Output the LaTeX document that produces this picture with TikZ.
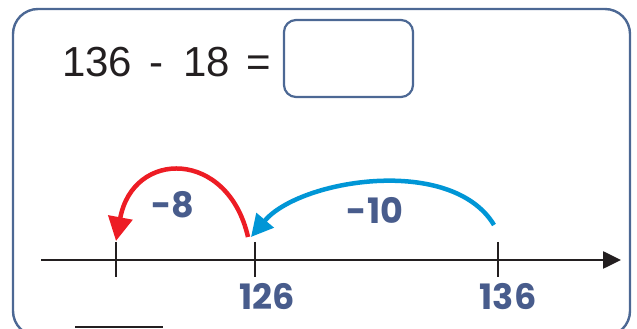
\documentclass[tikz,border=0pt]{standalone}
\usepackage{fontspec}
\setmainfont{Liberation Sans}
\newfontfamily\handfont{Poppins}
\usetikzlibrary{arrows.meta}
\definecolor{frameblue}{RGB}{76,104,148}
\definecolor{handblue}{RGB}{72,92,140}
\definecolor{arcred}{RGB}{237,28,36}
\definecolor{arcblue}{RGB}{0,150,214}
\definecolor{inkblack}{RGB}{35,31,32}
\tikzset{
  frame/.style={draw=frameblue, line width=2.4pt, rounded corners=25pt},
  ansbox/.style={draw=frameblue, line width=2.2pt, rounded corners=12pt},
  axis/.style={draw=inkblack, line width=2.6pt},
  tick/.style={draw=inkblack, line width=2.6pt},
  hand/.style={text=handblue, font=\handfont\bfseries\fontsize{35}{40}\selectfont, inner sep=0pt},
  redarc/.style={draw=arcred, line width=4.5pt, -{Triangle[length=24pt,width=24pt]}},
  bluearc/.style={draw=arcblue, line width=4.5pt, -{Triangle[length=22pt,width=22pt]}},
}
\begin{document}
\begin{tikzpicture}[x=1pt,y=1pt]
\useasboundingbox (0,0) rectangle (637,329);
\begin{scope}
\clip (0,0) rectangle (637,329);
\path[frame] (13,-7) rectangle (630,320);
\end{scope}
% equation
\node[anchor=base west, inner sep=0pt, font=\fontsize{42}{50}\selectfont, text=inkblack] (eq) at (62,252) {136\hspace{17pt}-\hspace{20pt}18\hspace{17pt}=};
\node[ansbox, minimum width=129pt, minimum height=77pt] (ans) at (348.5,270.5) {};
% number line
\coordinate (axL) at (41,69);
\coordinate (axR) at (621,69);
\draw[axis, -{Triangle[length=18pt,width=17pt]}] (axL) -- (axR);
\coordinate (t1) at (116,69);
\coordinate (t2) at (255,69);
\coordinate (t3) at (498,69);
\draw[tick] ([yshift=18pt]t1) -- ([yshift=-17pt]t1);
\draw[tick] ([yshift=18pt]t2) -- ([yshift=-17pt]t2);
\draw[tick] ([yshift=18pt]t3) -- ([yshift=-17pt]t3);
% arcs
\coordinate (bs) at (494,104);
\coordinate (be) at (251,92);
\coordinate (rs) at (248,92);
\coordinate (re) at (116,88);
\draw[bluearc] (bs) .. controls (452,174) and (300,150) .. (be);
\draw[redarc] (rs) .. controls (228,180) and (133,180) .. (re);
% labels
\node[hand] (l8) at (173,124) {-8};
\node[hand] (l10) at (375,119) {-10};
\node[hand] (l126) at (267,32) {126};
\node[hand] (l136) at (508,32) {136};
% answer line
\coordinate (al) at (75,2);
\coordinate (ar) at (163,2);
\draw[draw=inkblack, line width=2.2pt] (al) -- (ar);
\end{tikzpicture}
\end{document}
